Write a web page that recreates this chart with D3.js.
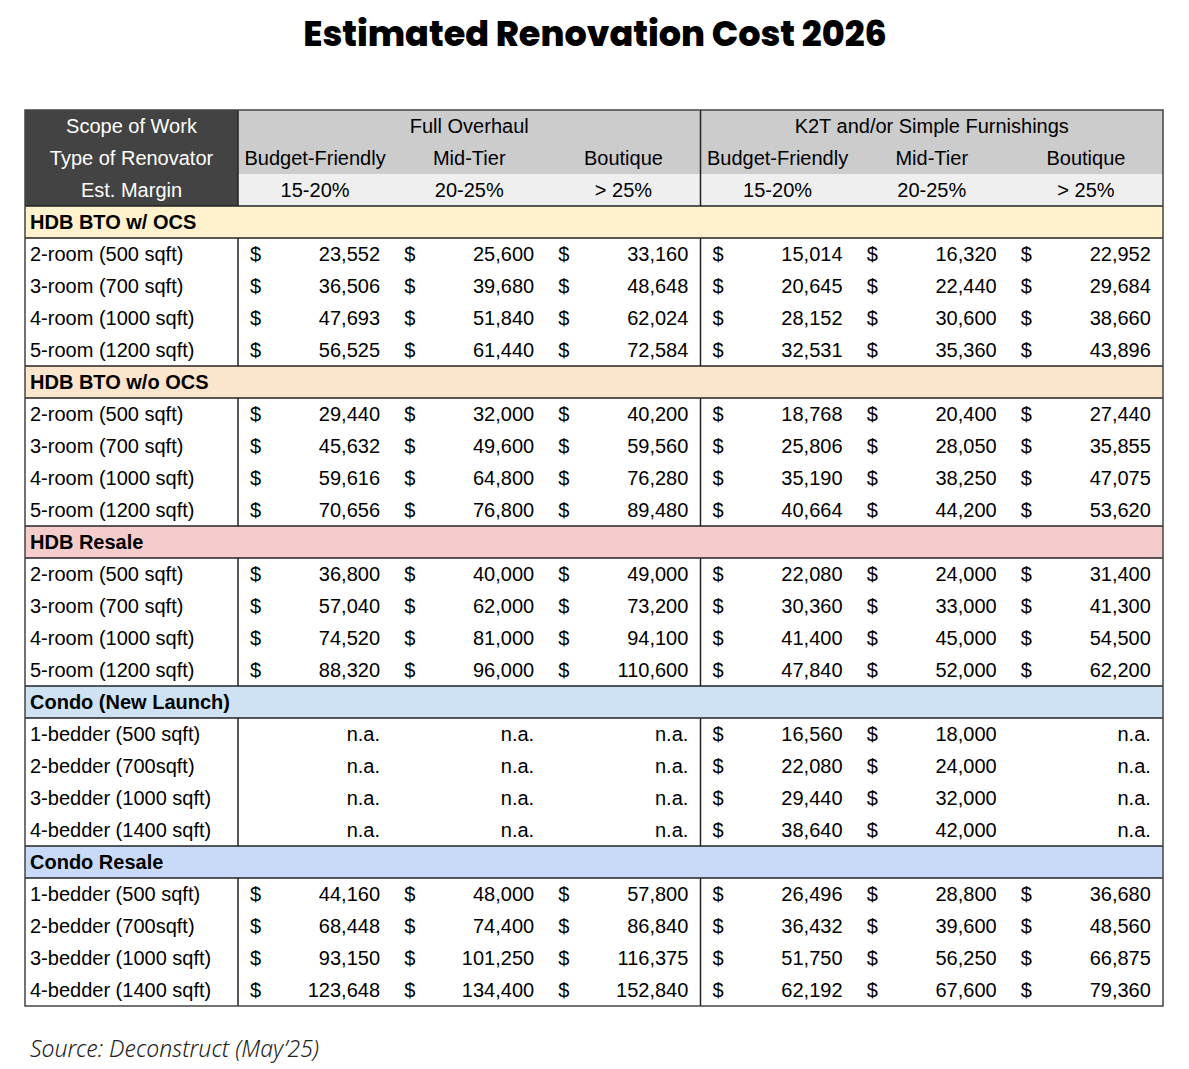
<!DOCTYPE html>
<html><head><meta charset="utf-8">
<script src="https://cdn.jsdelivr.net/npm/d3@7"></script>
<style>body{margin:0;background:#fff}</style>
</head><body>
<svg id="chart" width="1189" height="1069"></svg>
<script>
var tiers = ['Budget-Friendly','Mid-Tier','Boutique'];
var margins = ['15-20%','20-25%','> 25%'];
var groups = ['Full Overhaul','K2T and/or Simple Furnishings'];
var sections = ['HDB BTO w/ OCS','HDB BTO w/o OCS','HDB Resale','Condo (New Launch)','Condo Resale'];
var sectionColors = ['#fff2cc','#fce5cd','#f4cccc','#cfe2f3','#c9daf8'];
var hdbRooms = ['2-room (500 sqft)','3-room (700 sqft)','4-room (1000 sqft)','5-room (1200 sqft)'];
var condoRooms = ['1-bedder (500 sqft)','2-bedder (700sqft)','3-bedder (1000 sqft)','4-bedder (1400 sqft)'];
// each row: Full Overhaul x3, K2T x3 (null = n.a.)
var btoOcs = [
  [23552,25600,33160,15014,16320,22952],
  [36506,39680,48648,20645,22440,29684],
  [47693,51840,62024,28152,30600,38660],
  [56525,61440,72584,32531,35360,43896]];
var btoNoOcs = [
  [29440,32000,40200,18768,20400,27440],
  [45632,49600,59560,25806,28050,35855],
  [59616,64800,76280,35190,38250,47075],
  [70656,76800,89480,40664,44200,53620]];
var hdbResale = [
  [36800,40000,49000,22080,24000,31400],
  [57040,62000,73200,30360,33000,41300],
  [74520,81000,94100,41400,45000,54500],
  [88320,96000,110600,47840,52000,62200]];
var condoNew = [
  [null,null,null,16560,18000,null],
  [null,null,null,22080,24000,null],
  [null,null,null,29440,32000,null],
  [null,null,null,38640,42000,null]];
var condoResale = [
  [44160,48000,57800,26496,28800,36680],
  [68448,74400,86840,36432,39600,48560],
  [93150,101250,116375,51750,56250,66875],
  [123648,134400,152840,62192,67600,79360]];
var sectionData = [btoOcs,btoNoOcs,hdbResale,condoNew,condoResale];
var sectionLabels = [hdbRooms,hdbRooms,hdbRooms,condoRooms,condoRooms];

var svg = d3.select('#chart');
var font = 'Arial, "Liberation Sans", sans-serif';
var L = 25, C1 = 238, R = 1163, top0 = 110, rowH = 32;
var cols = d3.range(6);
var x = d3.scaleBand().domain(cols).range([C1, R]);
var fmt = d3.format(',');

svg.append('text').attr('x',595).attr('y',46).attr('text-anchor','middle')
  .style('font-family','Poppins, Inter, sans-serif').style('font-weight',800).style('font-size','35px')
  .text('Estimated Renovation Cost 2026');

// build row list
var rows = [];
sections.forEach(function(s,i){
  rows.push({type:'section',label:s,color:sectionColors[i]});
  sectionData[i].forEach(function(v,j){ rows.push({type:'data',label:sectionLabels[i][j],values:v}); });
});
var y = d3.scaleBand().domain(d3.range(3 + rows.length)).range([top0, top0 + rowH*(3+rows.length)]);
var bottom = y.range()[1];

function txt(xp, yp, t, anchor, opts){
  opts = opts || {};
  return svg.append('text').attr('x',xp).attr('y',yp).attr('dy','0.36em')
    .attr('text-anchor',anchor||'start').style('font-family',font).style('font-size','20px')
    .style('font-weight',opts.bold?'bold':'normal').attr('fill',opts.fill||'#000').text(t);
}

// header backgrounds
svg.append('rect').attr('x',L).attr('y',top0).attr('width',C1-L).attr('height',rowH*3).attr('fill','#434343');
svg.append('rect').attr('x',C1).attr('y',top0).attr('width',R-C1).attr('height',rowH*2).attr('fill','#cccccc');
svg.append('rect').attr('x',C1).attr('y',y(2)).attr('width',R-C1).attr('height',rowH).attr('fill','#efefef');
var hc = y.bandwidth()/2;
['Scope of Work','Type of Renovator','Est. Margin'].forEach(function(t,i){
  txt((L+C1)/2, y(i)+hc, t, 'middle', {fill:'#fff'});
});
groups.forEach(function(g,i){
  txt(x(i*3) + x.bandwidth()*1.5, y(0)+hc, g, 'middle');
});
cols.forEach(function(c){
  txt(x(c)+x.bandwidth()/2, y(1)+hc, tiers[c%3], 'middle');
  txt(x(c)+x.bandwidth()/2, y(2)+hc, margins[c%3], 'middle');
});

// body
rows.forEach(function(r,i){
  var yy = y(i+3), cy = yy + hc;
  if (r.type === 'data') {
    txt(L+5, cy, r.label, 'start');
    r.values.forEach(function(v,c){
      var x0 = x(c), gEnd = x(c - c%3) + x.bandwidth()*3;
      var xr = Math.min(x0 + 142, gEnd - 11);
      if (v === null) { txt(xr, cy, 'n.a.', 'end'); }
      else { txt(x0+12, cy, '$', 'start'); txt(xr, cy, fmt(v), 'end'); }
    });
  }
});

// vertical dividers
[C1, x(3)].forEach(function(xx){
  svg.append('line').attr('x1',xx).attr('x2',xx).attr('y1',top0).attr('y2',bottom).attr('stroke','#222').attr('stroke-width',1.5);
});
// section bands drawn over dividers
rows.forEach(function(r,i){
  if (r.type !== 'section') return;
  var yy = y(i+3);
  svg.append('rect').attr('x',L).attr('y',yy).attr('width',R-L).attr('height',rowH).attr('fill',r.color);
  txt(L+5, yy+hc, r.label, 'start', {bold:true});
  [yy, yy+rowH].forEach(function(ly){
    svg.append('line').attr('x1',L).attr('x2',R).attr('y1',ly).attr('y2',ly).attr('stroke','#222').attr('stroke-width',1.5);
  });
});
svg.append('rect').attr('x',L).attr('y',top0).attr('width',R-L).attr('height',bottom-top0)
  .attr('fill','none').attr('stroke','#444').attr('stroke-width',1.5);

svg.append('text').attr('x',30).attr('y',1057)
  .style('font-family','"Noto Sans", sans-serif').style('font-style','italic').style('font-weight',300)
  .style('font-size','23px').attr('fill','#222').text('Source: Deconstruct (May\u201925)');
</script>
</body></html>
